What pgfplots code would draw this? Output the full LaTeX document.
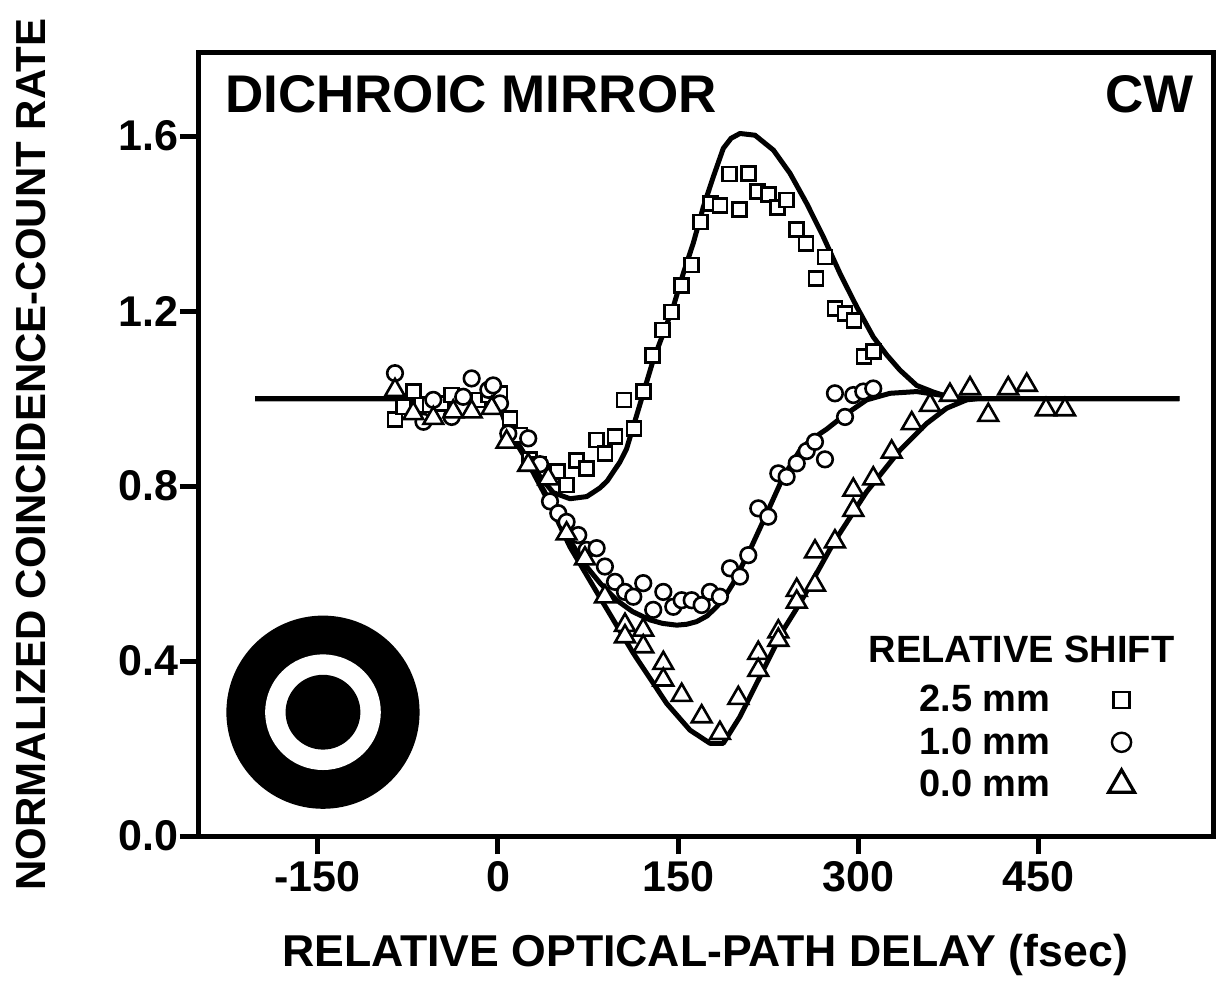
\documentclass[border=0pt]{standalone}
\usepackage{fontspec}
\setmainfont{Liberation Sans}
\usepackage{pgfplots}
\pgfplotsset{compat=1.18}
\newcommand\fs[1]{\fontsize{#1}{#1}\selectfont\bfseries}

\begin{document}
\begin{tikzpicture}
\path[use as bounding box] (0,0) rectangle (610pt,492.5pt);
\begin{axis}[
  at={(99pt,74.5pt)}, anchor=south west,
  scale only axis, width=507.5pt, height=391.5pt,
  xmin=-249.6, xmax=595, ymin=0, ymax=1.79,
  axis line style={line width=2.5pt, line cap=rect},
  xtick={-150,0,150,300,450},
  ytick={0,0.4,0.8,1.2,1.6},
  tick align=outside, xtick pos=bottom, ytick pos=left,
  major tick length=9pt,
  tick style={line width=2.5pt, black},
  /pgf/number format/assume math mode=true,
  ticklabel style={font=\fs{21.5pt}},
  yticklabel style={/pgf/number format/.cd, fixed, fixed zerofill, precision=1, /tikz/xshift=2.5pt},
  xticklabel style={/pgf/number format/.cd, fixed, precision=0},
  xlabel={RELATIVE OPTICAL-PATH DELAY (fsec)},
  ylabel={NORMALIZED COINCIDENCE-COUNT RATE},
  every axis x label/.style={at={(axis description cs:0.4995,-0.152)}, anchor=center, font=\fs{22.3pt}},
  every axis y label/.style={at={(axis description cs:-0.1645,0.487)}, anchor=center, rotate=90, font=\fs{21pt}},
  legend plot pos=right,
  legend style={draw=none, fill=none, at={(axis description cs:0.929,0.201)}, anchor=north east,
    font=\fs{19pt}, row sep=4.5pt, column sep=28pt, nodes={inner sep=1pt}},
  clip=false,
]
% target pictogram
\fill[black] (axis cs:-145.6,0.283) circle[radius=48.3pt];
\fill[white] (axis cs:-145.6,0.283) circle[radius=28.9pt];
\fill[black] (axis cs:-145.6,0.283) circle[radius=18.7pt];

% fitted curves
\addplot[black, line width=2.5pt, line join=round, forget plot] coordinates {
(-202,1.0) (-10,1.0) (0,0.995) (7,0.94) (24,0.865) (35,0.822) (46,0.785) (60,0.771) (74,0.776) (85,0.796) (91,0.812) (101.5,0.855) (107,0.885) (112.6,0.936) (120.9,1.012) (129.2,1.088) (137.6,1.149) (145.9,1.21) (154.2,1.286) (162.5,1.355) (170.9,1.438) (179.2,1.507) (187.5,1.572) (194,1.595) (201.4,1.606) (213.9,1.602) (229.2,1.568) (243,1.515) (256.9,1.446) (270.7,1.37) (284.6,1.286) (298.5,1.21) (312.3,1.141) (323.4,1.1) (334.5,1.065) (348.4,1.03) (362.2,1.015) (376,1.003) (390,1.0) (567,1.0)};
\addplot[black, line width=2.5pt, line join=round, forget plot] coordinates {
(-202,1.0) (-5,1.0) (0,0.995) (7,0.94) (24,0.862) (40.5,0.778) (57,0.69) (71,0.625) (85,0.578) (98.8,0.539) (112,0.513) (126.5,0.494) (137,0.486) (148.7,0.482) (157,0.484) (165.3,0.49) (174,0.503) (182,0.524) (189,0.548) (195.8,0.578) (202,0.612) (209.7,0.654) (223.6,0.737) (237.4,0.821) (251.3,0.882) (260,0.905) (273.5,0.93) (287.3,0.96) (306.8,0.997) (326.2,1.012) (348.4,1.016) (367.8,1.008) (385,1.0) (567,1.0)};
\addplot[black, line width=2.5pt, line join=round, forget plot] coordinates {
(-202,1.0) (-5,1.0) (0,0.995) (7.2,0.935) (23.9,0.859) (42,0.765) (59.9,0.661) (84.9,0.545) (112.6,0.418) (140.4,0.303) (159.8,0.242) (176.4,0.212) (187.5,0.212) (201.4,0.273) (218,0.364) (237.4,0.471) (251.3,0.532) (259.6,0.573) (279,0.669) (306.8,0.787) (334.5,0.882) (356.7,0.943) (373.4,0.978) (390,0.997) (400,1.0) (567,1.0)};

% data: 2.5 mm
\addplot[only marks, mark=square*, mark size=3.5pt, mark options={fill=white, draw=black, line width=1.3pt},
  legend image code/.code={\draw[mark=square*, mark size=4pt, mark options={fill=white, draw=black, line width=1.2pt}] plot coordinates {(0.3cm,0cm)};}]
coordinates {
(-85.7,0.952) (-78.8,0.981) (-70.5,1.016) (-63.5,0.985) (-56.6,0.985) (-46.9,0.989) (-38.5,1.008) (-16.4,0.997) (-8.1,1.008) (1.7,1.012) (10,0.955) (18.3,0.917) (26,0.861) (34,0.85) (49.5,0.833) (57.1,0.802) (65.5,0.859) (73.8,0.840) (82.1,0.905) (89,0.875) (97.4,0.913) (105,0.997) (113.3,0.932) (120.9,1.016) (128.7,1.099) (137,1.157) (144.5,1.198) (152.9,1.259) (161.2,1.305) (168.7,1.404) (177,1.446) (184.7,1.442) (192.5,1.513) (200.8,1.432) (208.3,1.515) (216.1,1.473) (224.9,1.467) (232.7,1.437) (240.2,1.454) (248.6,1.387) (256.3,1.354) (264.6,1.275) (272.1,1.324) (280.4,1.206) (288.8,1.195) (296.3,1.178) (304.6,1.096) (312.3,1.107)};
\addlegendentry{2.5 mm}

% data: 1.0 mm
\addplot[only marks, mark=*, mark size=3.9pt, mark options={fill=white, draw=black, line width=1.3pt},
  legend image code/.code={\draw[mark=*, mark size=4.8pt, mark options={fill=white, draw=black, line width=1.2pt}] plot coordinates {(0.3cm,0cm)};}]
coordinates {
(-85.7,1.058) (-62,0.947) (-53.8,0.997) (-38.5,0.958) (-28.9,1.004) (-21.9,1.046) (-8,1.02) (-4,1.03) (1.7,0.989) (8.6,0.92) (25.2,0.909) (35,0.85) (43.3,0.765) (50.2,0.738) (57.1,0.718) (66.8,0.688) (73.8,0.654) (82.1,0.658) (89,0.616) (97.4,0.581) (105.7,0.558) (112.6,0.547) (120.9,0.578) (129.2,0.517) (137.6,0.558) (145.9,0.524) (152.9,0.539) (161.2,0.539) (169.5,0.528) (176.4,0.558) (184.7,0.547) (193.1,0.612) (201.4,0.593) (208.3,0.642) (216.6,0.749) (224.9,0.730) (233.3,0.829) (240.2,0.821) (248.6,0.852) (256.9,0.880) (263.8,0.901) (272.1,0.861) (280.4,1.012) (288.8,0.958) (295.7,1.008) (304,1.016) (312.3,1.023)};
\addlegendentry{1.0 mm}

% data: 0.0 mm
\addplot[only marks, mark=triangle*, mark size=5.7pt, mark options={fill=white, draw=black, line width=1.3pt},
  legend image code/.code={\draw[mark=triangle*, mark size=7.5pt, mark options={fill=white, draw=black, line width=1.6pt}] plot coordinates {(0.3cm,0cm)};}]
coordinates {
(-85.7,1.019) (-70.5,0.966) (-53.8,0.955) (-37.2,0.970) (-21.9,0.970) (-5.2,0.978) (7.2,0.901) (25.2,0.848) (41.9,0.817) (57.1,0.691) (72.4,0.634) (89,0.547) (105.7,0.482) (105.7,0.456) (120.9,0.471) (120.9,0.433) (137.6,0.395) (137.6,0.357) (152.9,0.322) (169.5,0.273) (184.7,0.235) (200,0.315) (216.6,0.418) (216.6,0.379) (233.3,0.467) (233.3,0.448) (248.6,0.562) (248.6,0.535) (263.8,0.650) (263.8,0.574) (280.4,0.673) (295.7,0.791) (295.7,0.745) (312.3,0.817) (327.6,0.878) (344.3,0.943) (359.5,0.985) (376.1,1.008) (392.8,1.023) (408,0.962) (424.6,1.023) (440,1.031) (456,0.975) (471.8,0.975)};
\addlegendentry{0.0 mm}

\node[anchor=base west, font=\fs{26.5pt}] at (axis description cs:0.0197,0.9234) {DICHROIC MIRROR};
\node[anchor=base east, font=\fs{26.5pt}] at (axis description cs:0.9882,0.9234) {CW};
\node[anchor=base west, font=\fs{19pt}] at (axis description cs:0.654,0.222) {RELATIVE SHIFT};
\end{axis}
\end{tikzpicture}
\end{document}
